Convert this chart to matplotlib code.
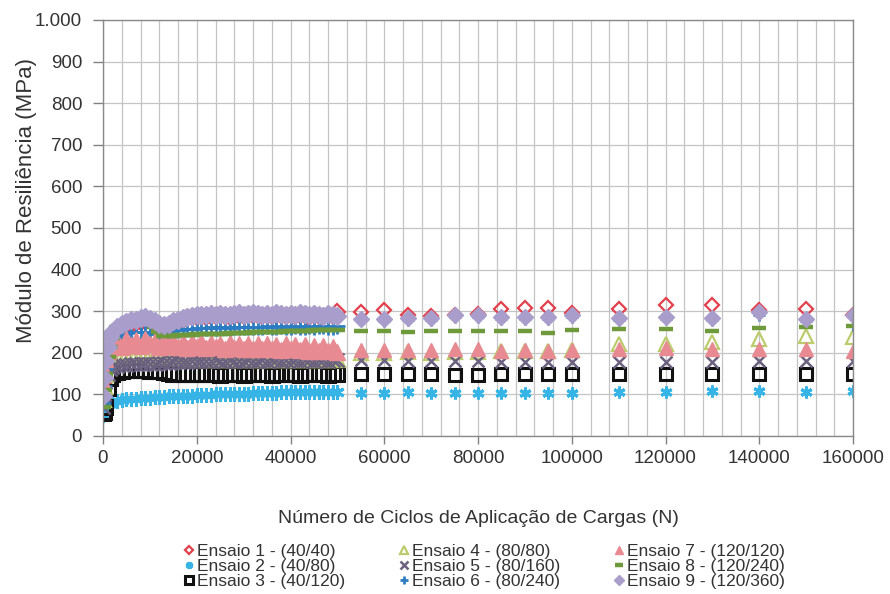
import numpy as np
import matplotlib
matplotlib.use("Agg")
import matplotlib.pyplot as plt
from matplotlib.ticker import MultipleLocator, FuncFormatter

plt.rcParams['font.family'] = ['Liberation Sans', 'DejaVu Sans']

# Ciclos (N): parte densa ate 50000 e pontos isolados depois
x_denso = [0, 250, 500, 1000, 1500] + list(range(2000, 50001, 1000))
x_disc = [55000, 60000, 65000, 70000, 75000, 80000, 85000, 90000, 95000, 100000,
          110000, 120000, 130000, 140000, 150000, 160000]

# Modulo de resiliencia (MPa)
e1_denso = [90, 130, 170, 205, 225, 238,
            255, 262, 266, 270, 272, 275, 277, 276,
            272, 266, 262, 266, 272,
            276, 280, 283, 285, 286,
            288, 287, 289, 288, 290, 288, 287, 289, 291, 289,
            290, 292, 290, 288, 290, 289, 291, 290, 288, 290,
            289, 291, 290, 287, 290, 289, 286, 290, 288, 298]
e2_denso = [50, 60, 70, 76, 80, 82,
            84, 86, 88, 89, 90, 91, 92, 92,
            93, 94, 94, 95, 95,
            96, 96, 97, 97, 98,
            98, 99, 99, 100, 100, 100, 101, 101, 102, 102,
            102, 103, 103, 103, 104, 104, 104, 105, 105, 105,
            105, 106, 105, 106, 106, 105, 106, 106, 105, 106]
e3_denso = [55, 58, 70, 115, 140, 150,
            155, 157, 158, 158, 159, 158, 158, 157,
            157, 156, 155, 152, 150,
            149, 149, 148, 148, 148,
            148, 149, 148, 148, 147, 148, 149, 148, 148, 147,
            148, 148, 149, 148, 148, 147, 148, 148, 149, 148,
            148, 147, 148, 148, 149, 148, 148, 147, 148, 148]
e4_denso = [90, 120, 150, 175, 185, 190,
            192, 193, 194, 194, 195, 194, 195, 194,
            193, 192, 191, 190, 189,
            188, 188, 187, 187, 186,
            186, 186, 185, 186, 185, 185, 186, 185, 184, 185,
            185, 184, 185, 184, 185, 184, 184, 185, 184, 185,
            184, 185, 184, 184, 185, 184, 185, 184, 185, 186]
e5_denso = [70, 100, 130, 150, 160, 165,
            168, 170, 171, 172, 172, 173, 173, 174,
            174, 175, 175, 176, 177,
            178, 178, 179, 180, 180,
            180, 181, 180, 182, 181, 180, 182, 181, 180, 181,
            182, 181, 180, 182, 181, 183, 182, 181, 182, 183,
            182, 181, 183, 182, 181, 183, 182, 181, 182, 183]
e6_denso = [80, 120, 160, 195, 215, 228,
            238, 244, 248, 250, 249, 251, 250, 248,
            246, 248, 250, 252, 254,
            256, 257, 258, 258, 259,
            260, 259, 261, 260, 262, 261, 260, 262, 261, 263,
            262, 261, 263, 262, 264, 263, 262, 264, 263, 262,
            264, 263, 262, 264, 263, 265, 264, 263, 262, 264]
e7_denso = [130, 160, 185, 205, 215, 222,
            228, 214, 232, 218, 230, 216, 233, 220,
            228, 215, 231, 217, 229,
            214, 227, 212, 226, 215,
            225, 211, 224, 213, 222, 210, 224, 212, 221, 209,
            222, 210, 220, 208, 221, 209, 219, 207, 220, 208,
            218, 206, 219, 205, 217, 204, 216, 205, 215, 203]
e8_denso = [70, 110, 150, 190, 215, 235,
            262, 266, 268, 270, 271, 272, 273, 272,
            262, 250, 240, 241, 241,
            242, 242, 243, 243, 244,
            244, 244, 245, 245, 246, 246, 247, 247, 247, 248,
            248, 249, 249, 250, 250, 250, 251, 251, 252, 252,
            252, 253, 253, 253, 254, 254, 254, 255, 255, 255]
e9_denso = [95, 140, 180, 215, 238, 250,
            262, 270, 274, 278, 280, 283, 285, 282,
            276, 270, 266, 270, 276,
            280, 284, 287, 289, 290,
            292, 290, 293, 291, 294, 292, 290, 293, 295, 292,
            294, 296, 293, 291, 294, 292, 295, 293, 291, 294,
            292, 295, 293, 290, 294, 292, 289, 293, 291, 288]

e1_disc = [297, 303, 292, 288, 290, 293, 305, 307, 307, 296, 306, 314, 316, 303, 306, 292]
e2_disc = [104, 104, 105, 104, 104, 104, 104, 104, 104, 104, 106, 106, 107, 107, 106, 107]
e3_disc = [148, 148, 149, 148, 147, 147, 148, 148, 148, 148, 148, 149, 148, 149, 149, 150]
e4_disc = [200, 200, 201, 200, 201, 202, 204, 205, 205, 207, 220, 222, 225, 232, 240, 238]
e5_disc = [182, 182, 181, 181, 181, 180, 178, 178, 178, 178, 178, 179, 179, 180, 180, 181]
e6_disc = [278, 277, 279, 280, 285, 286, 282, 281, 281, 285, 278, 281, 278, 292, 277, 268]
e7_disc = [207, 207, 206, 207, 208, 208, 205, 206, 204, 207, 208, 212, 208, 208, 210, 205]
e8_disc = [252, 252, 251, 252, 252, 252, 253, 252, 247, 255, 258, 258, 252, 260, 262, 265]
e9_disc = [282, 281, 283, 284, 290, 291, 287, 286, 286, 290, 283, 286, 283, 298, 282, 290]

rotulos = ["Ensaio 1 - (40/40)", "Ensaio 2 - (40/80)", "Ensaio 3 - (40/120)",
           "Ensaio 4 - (80/80)", "Ensaio 5 - (80/160)", "Ensaio 6 - (80/240)",
           "Ensaio 7 - (120/120)", "Ensaio 8 - (120/240)", "Ensaio 9 - (120/360)"]

densos = [e1_denso, e2_denso, e3_denso, e4_denso, e5_denso, e6_denso, e7_denso, e8_denso, e9_denso]
discretos = [e1_disc, e2_disc, e3_disc, e4_disc, e5_disc, e6_disc, e7_disc, e8_disc, e9_disc]

# estilo de cada ensaio: marcador, cor, preenchimento
estilos = [
    dict(marker='D', color='#e2404c', mfc='none', ms=7, mew=1.6),
    dict(marker=(6, 2, 0), color='#37b4e6', mfc='#37b4e6', ms=8.5, mew=2.2),
    dict(marker='s', color='#111111', mfc='none', ms=8.5, mew=2.2),
    dict(marker='^', color='#bccb6c', mfc='none', ms=9.5, mew=1.6),
    dict(marker='x', color='#6a607f', mfc='#6a607f', ms=8.5, mew=1.8),
    dict(marker='+', color='#2b7cc2', mfc='#2b7cc2', ms=9, mew=2.0),
    dict(marker='^', color='#e88a92', mfc='#e88a92', ms=9.5, mew=1.0),
    dict(marker='_', color='#6e9a3c', mfc='#6e9a3c', ms=10, mew=3.2),
    dict(marker='D', color='#a99dcc', mfc='#a99dcc', ms=8, mew=1.0),
]

fig = plt.figure(figsize=(8.9, 5.94), dpi=100)
ax = fig.add_axes([103/890, 1 - 436/594, 750/890, 416/594])

handles = []
for yd, yv, rot, est in zip(densos, discretos, rotulos, estilos):
    kw = dict(linestyle='none', marker=est['marker'], color=est['color'],
              markerfacecolor=est['mfc'], markeredgecolor=est['color'],
              markeredgewidth=est['mew'])
    # parte densa: marcadores um pouco maiores, formando faixa
    ax.plot(x_denso, yd, markersize=est['ms'] * 1.2, **kw)
    h, = ax.plot(x_disc, yv, markersize=est['ms'], label=rot, **kw)
    handles.append(h)

ax.set_xlim(0, 160000)
ax.set_ylim(0, 1000)
ax.xaxis.set_major_locator(MultipleLocator(20000))
ax.xaxis.set_minor_locator(MultipleLocator(4000))
ax.yaxis.set_major_locator(MultipleLocator(100))
ax.xaxis.set_major_formatter(FuncFormatter(lambda v, p: f"{int(v)}"))
ax.yaxis.set_major_formatter(FuncFormatter(lambda v, p: f"{int(v):,}".replace(",", ".")))
ax.grid(True, which='both', color='#c4c4c4', linewidth=0.9)
ax.set_axisbelow(True)
ax.tick_params(axis='y', which='major', direction='out', length=7, width=1, pad=8,
               color='#808080', labelsize=13.5, labelcolor='#333333')
ax.tick_params(axis='x', which='major', direction='out', length=6, width=1, pad=4,
               color='#808080', labelsize=13.5, labelcolor='#333333')
ax.tick_params(axis='x', which='minor', length=0)
for s in ax.spines.values():
    s.set_color('#8a8a8a')
    s.set_linewidth(1.0)

ax.set_ylabel("Módulo de Resiliência (MPa)", fontsize=16, color='#333333')
ax.yaxis.set_label_coords(-0.088, 0.565)
ax.set_xlabel("Número de Ciclos de Aplicação de Cargas (N)", fontsize=14, color='#333333')
ax.xaxis.set_label_coords(0.5, -0.178)

leg = fig.legend(handles=handles, loc='upper center', bbox_to_anchor=(484/890, 1 - 535/594),
                 ncol=3, frameon=False, fontsize=12.5, markerscale=0.6,
                 handlelength=0.6, handletextpad=0.15, columnspacing=3.1,
                 labelspacing=0.0, borderpad=0.0)
for t in leg.get_texts():
    t.set_color('#333333')

fig.savefig("out.png", dpi=100)
